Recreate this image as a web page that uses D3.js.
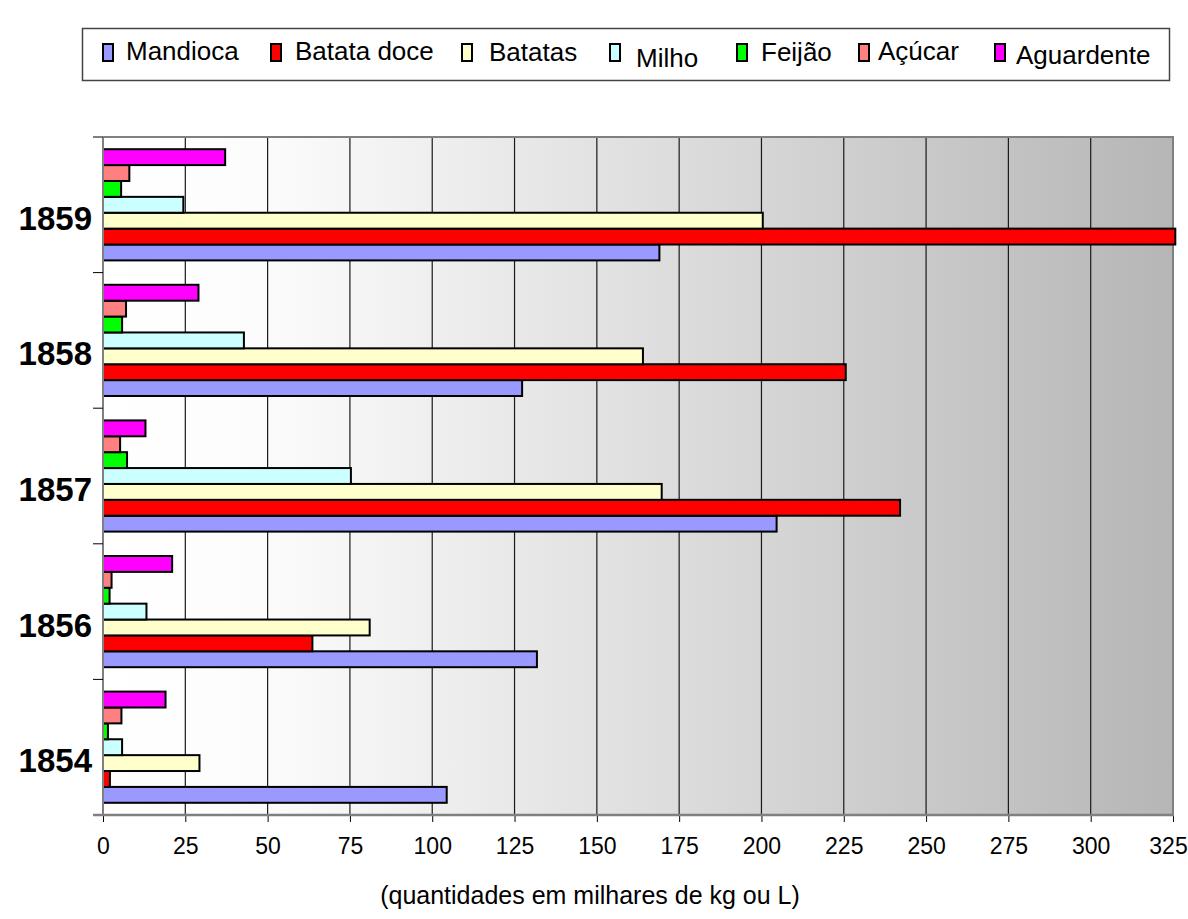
<!DOCTYPE html>
<html>
<head>
<meta charset="utf-8">
<script src="https://cdn.jsdelivr.net/npm/d3@7.9.0/dist/d3.min.js"></script>
<style>
  body { margin: 0; background: #fff; }
  text { font-family: Arial, "Liberation Sans", sans-serif; }
</style>
</head>
<body>
<svg id="chart" width="1188" height="919"></svg>
<script>
const years = ['1859', '1858', '1857', '1856', '1854'];
const series = ['Mandioca', 'Batata doce', 'Batatas', 'Milho', 'Feijão', 'Açúcar', 'Aguardente'];
const colors = ['#9999ff', '#ff0000', '#ffffcc', '#ccffff', '#00ff00', '#ff8080', '#ff00ff'];

// values in the same order as years
const mandioca   = [169.0, 127.3, 204.6, 131.8, 104.4];
const batataDoce = [325.7, 225.6, 242.1, 63.6, 2.1];
const batatas    = [200.4, 164.0, 169.7, 81.0, 29.3];
const milho      = [24.4, 42.8, 75.3, 13.2, 5.8];
const feijao     = [5.5, 5.8, 7.3, 2.0, 1.5];
const acucar     = [8.0, 7.0, 5.2, 2.6, 5.6];
const aguardente = [37.1, 29.0, 12.9, 21.0, 19.0];

const xTicks = d3.range(0, 326, 25);
const xTitle = '(quantidades em milhares de kg ou L)';

let allValues = [mandioca, batataDoce, batatas, milho, feijao, acucar, aguardente];

let svg = d3.select('#chart');
let margin = { left: 103, right: 1173, top: 137, bottom: 815 };

let x = d3.scaleLinear().domain([0, 325]).range([margin.left, margin.right]);
let y0 = d3.scaleBand().domain(years).range([margin.top, margin.bottom])
  .paddingInner(0.18).paddingOuter(0.09);
// Mandioca sits at the bottom of each group, Aguardente on top
let y1 = d3.scaleBand().domain(series.slice().reverse()).range([0, y0.bandwidth()]);

// background gradient
let defs = svg.append('defs');
let grad = defs.append('linearGradient').attr('id', 'bg')
  .attr('x1', '0%').attr('x2', '100%').attr('y1', '0%').attr('y2', '0%');
grad.append('stop').attr('offset', '0%').attr('stop-color', '#ffffff');
grad.append('stop').attr('offset', '15%').attr('stop-color', '#fcfcfc');
grad.append('stop').attr('offset', '100%').attr('stop-color', '#b6b6b6');

svg.append('rect')
  .attr('x', margin.left).attr('y', margin.top)
  .attr('width', margin.right - margin.left).attr('height', margin.bottom - margin.top)
  .attr('fill', 'url(#bg)');

// vertical gridlines
svg.append('g')
  .selectAll('line')
  .data(xTicks.filter(d => d > 0 && d < 325))
  .join('line')
  .attr('x1', d => x(d)).attr('x2', d => x(d))
  .attr('y1', margin.top).attr('y2', margin.bottom)
  .attr('stroke', '#1a1a1a').attr('stroke-width', 1.2);

// plot border (top / right)
svg.append('path')
  .attr('d', `M${margin.left},${margin.top}H${margin.right}V${margin.bottom}`)
  .attr('fill', 'none').attr('stroke', '#808080').attr('stroke-width', 2);

// bars
let groups = svg.append('g')
  .selectAll('g')
  .data(years)
  .join('g')
  .attr('transform', d => `translate(0,${y0(d)})`);

groups.selectAll('rect')
  .data((yr, i) => series.map((s, j) => ({ name: s, value: allValues[j][i], color: colors[j] })))
  .join('rect')
  .attr('x', x(0))
  .attr('y', d => y1(d.name))
  .attr('width', d => x(d.value) - x(0))
  .attr('height', y1.bandwidth())
  .attr('fill', d => d.color)
  .attr('stroke', '#000')
  .attr('stroke-width', 2);

// bottom axis
let xAxis = svg.append('g')
  .attr('transform', `translate(0,${margin.bottom})`)
  .call(d3.axisBottom(x).tickValues(xTicks).tickSize(7).tickSizeOuter(0).tickPadding(16));
xAxis.select('.domain').remove();
xAxis.selectAll('.tick line').attr('stroke', '#000');
xAxis.selectAll('.tick text')
  .attr('font-size', 23).attr('fill', '#000')
  .attr('dx', d => d === 325 ? -5 : 0)
  .style('font-family', 'Arial, "Liberation Sans", sans-serif');
svg.append('line')
  .attr('x1', margin.left - 10).attr('x2', margin.right + 1)
  .attr('y1', margin.bottom).attr('y2', margin.bottom)
  .attr('stroke', '#808080').attr('stroke-width', 2.5);

// left axis with ticks at group boundaries
let step = y0.step();
let bounds = d3.range(years.length + 1).map(i => margin.top + i * step);
svg.append('line')
  .attr('x1', margin.left).attr('x2', margin.left)
  .attr('y1', margin.top).attr('y2', margin.bottom)
  .attr('stroke', '#808080').attr('stroke-width', 2);
svg.append('g')
  .selectAll('line')
  .data(bounds.slice(0, -1))
  .join('line')
  .attr('x1', margin.left - 10).attr('x2', margin.left)
  .attr('y1', d => d).attr('y2', d => d)
  .attr('stroke', '#000').attr('stroke-width', 1);

svg.append('g')
  .selectAll('text')
  .data(years)
  .join('text')
  .attr('x', 92)
  .attr('y', d => margin.top + years.indexOf(d) * step + step / 2 + 25)
  .attr('text-anchor', 'end')
  .attr('font-size', 33)
  .attr('font-weight', 'bold')
  .text(d => d);

// axis title
svg.append('text')
  .attr('x', 590).attr('y', 904)
  .attr('text-anchor', 'middle')
  .attr('font-size', 25)
  .text(xTitle);

// legend
let legendX = [103, 271, 462, 610, 737, 859, 995];
let legendTextX = [126, 295, 489, 636, 761, 878, 1016];
let legendBase = [60, 60, 61, 67, 61, 60, 64];

svg.append('rect')
  .attr('x', 82.5).attr('y', 28.5).attr('width', 1087).attr('height', 52)
  .attr('fill', '#fff').attr('stroke', '#444').attr('stroke-width', 1.5);

let legend = svg.append('g');
series.forEach((s, i) => {
  legend.append('rect')
    .attr('x', legendX[i]).attr('y', 44)
    .attr('width', 10).attr('height', 17)
    .attr('fill', colors[i]).attr('stroke', '#000').attr('stroke-width', 2);
  legend.append('text')
    .attr('x', legendTextX[i]).attr('y', legendBase[i])
    .attr('font-size', 26)
    .text(s);
});
</script>
</body>
</html>
